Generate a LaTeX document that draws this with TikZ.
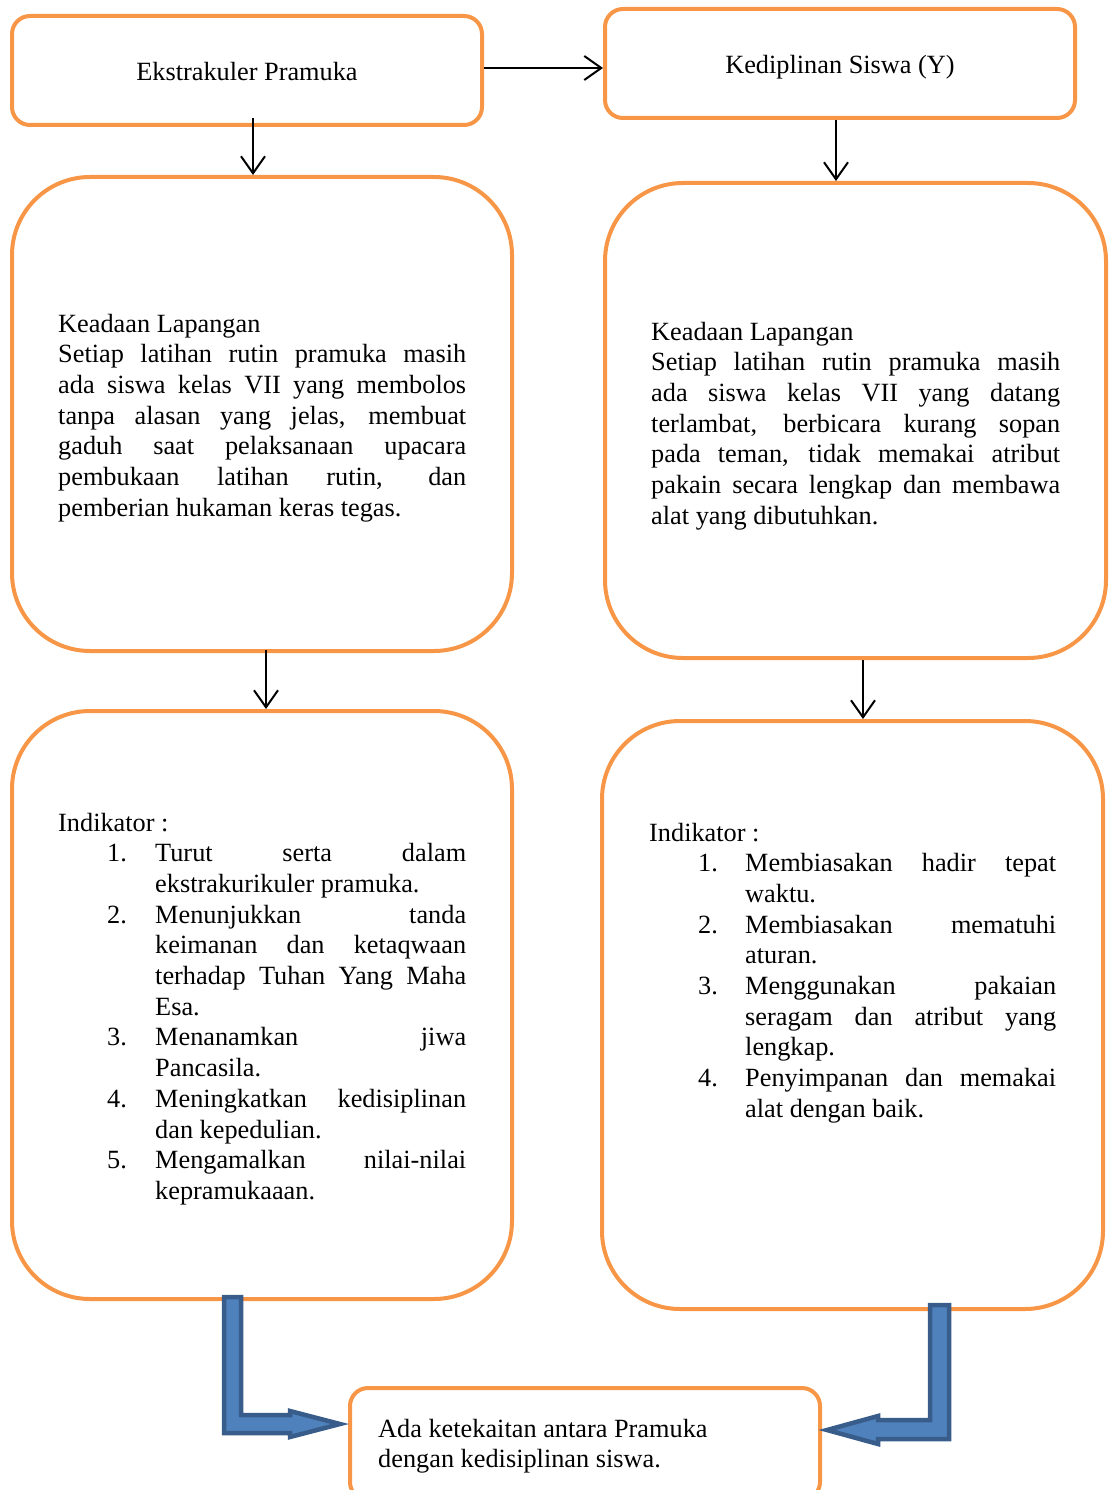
\documentclass[tikz,border=0pt]{standalone}
\usepackage{fontspec}
\setmainfont{Liberation Serif}
\usetikzlibrary{arrows.meta}
\definecolor{boxorange}{HTML}{F79646}
\definecolor{blkfill}{HTML}{4F81BD}
\definecolor{blkline}{HTML}{385D8A}
\newcommand{\jl}[2]{\makebox[#1][s]{#2}}
\newcommand{\itmA}[2]{\hspace*{49pt}\makebox[48pt][l]{#1}#2}
\newcommand{\contA}[1]{\hspace*{97pt}#1}
\newcommand{\itmB}[2]{\hspace*{49pt}\makebox[47pt][l]{#1}#2}
\newcommand{\contB}[1]{\hspace*{96pt}#1}
\begin{document}
\begin{tikzpicture}[x=1pt,y=-1pt,
 smallbox/.style={draw=boxorange, line width=4pt, rounded corners=18pt, inner sep=0pt},
 bigbox/.style={draw=boxorange, line width=4pt, rounded corners=78pt, inner sep=0pt},
 arr/.style={line width=2pt, -{Straight Barb[length=17pt,width=24pt]}},
 blockarrow/.style={fill=blkfill, draw=blkline, line width=4.5pt, line join=miter},
 txt/.style={inner sep=0pt, font=\fontsize{26.3}{30.7}\selectfont}
]
\useasboundingbox (0,0) rectangle (1109,1490);
\clip (0,0) rectangle (1109,1490);

% boxes
\node[smallbox, minimum width=470pt, minimum height=109pt] (A) at (247,70.5) {};
\node[smallbox, minimum width=470pt, minimum height=109pt] (B) at (840,63.5) {};
\node[bigbox, minimum width=500pt, minimum height=474pt] (C) at (262,414) {};
\node[bigbox, minimum width=501pt, minimum height=475pt] (D) at (855.5,420.5) {};
\node[bigbox, minimum width=500pt, minimum height=588pt] (E) at (262,1005) {};
\node[bigbox, minimum width=501pt, minimum height=588pt] (F) at (852.5,1015) {};
\node[smallbox, minimum width=470pt, minimum height=112pt] (G) at (585,1444) {};

% texts
\node[txt, anchor=base] (At) at (247,80.5) {Ekstrakuler Pramuka};
\node[txt, anchor=base] (Bt) at (840,73.5) {Kediplinan Siswa (Y)};

\node[txt, anchor=base west] (Ct) at (58,332) {\begin{minipage}[t]{420pt}\setlength{\parindent}{0pt}%
Keadaan Lapangan\\
\jl{408pt}{Setiap latihan rutin pramuka masih}\\
\jl{408pt}{ada siswa kelas VII yang membolos}\\
\jl{408pt}{tanpa alasan yang jelas, membuat}\\
\jl{408pt}{gaduh saat pelaksanaan upacara}\\
\jl{408pt}{pembukaan latihan rutin, dan}\\
pemberian hukaman keras tegas.
\end{minipage}};

\node[txt, anchor=base west] (Dt) at (651,340) {\begin{minipage}[t]{420pt}\setlength{\parindent}{0pt}%
Keadaan Lapangan\\
\jl{409pt}{Setiap latihan rutin pramuka masih}\\
\jl{409pt}{ada siswa kelas VII yang datang}\\
\jl{409pt}{terlambat, berbicara kurang sopan}\\
\jl{409pt}{pada teman, tidak memakai atribut}\\
\jl{409pt}{pakain secara lengkap dan membawa}\\
alat yang dibutuhkan.
\end{minipage}};

\node[txt, anchor=base west] (Et) at (58,831) {\begin{minipage}[t]{430pt}\setlength{\parindent}{0pt}%
Indikator :\\
\itmA{1.}{\jl{311pt}{Turut serta dalam}}\\
\contA{ekstrakurikuler pramuka.}\\
\itmA{2.}{\jl{311pt}{Menunjukkan tanda}}\\
\contA{\jl{311pt}{keimanan dan ketaqwaan}}\\
\contA{\jl{311pt}{terhadap Tuhan Yang Maha}}\\
\contA{Esa.}\\
\itmA{3.}{\jl{311pt}{Menanamkan jiwa}}\\
\contA{Pancasila.}\\
\itmA{4.}{\jl{311pt}{Meningkatkan kedisiplinan}}\\
\contA{dan kepedulian.}\\
\itmA{5.}{\jl{311pt}{Mengamalkan nilai-nilai}}\\
\contA{kepramukaaan.}
\end{minipage}};

\node[txt, anchor=base west] (Ft) at (649,841) {\begin{minipage}[t]{430pt}\setlength{\parindent}{0pt}%
Indikator :\\
\itmB{1.}{\jl{311pt}{Membiasakan hadir tepat}}\\
\contB{waktu.}\\
\itmB{2.}{\jl{311pt}{Membiasakan mematuhi}}\\
\contB{aturan.}\\
\itmB{3.}{\jl{311pt}{Menggunakan pakaian}}\\
\contB{\jl{311pt}{seragam dan atribut yang}}\\
\contB{lengkap.}\\
\itmB{4.}{\jl{311pt}{Penyimpanan dan memakai}}\\
\contB{alat dengan baik.}
\end{minipage}};

\node[txt, anchor=base west] (Gt) at (378,1437) {\begin{minipage}[t]{430pt}\setlength{\parindent}{0pt}%
Ada ketekaitan antara Pramuka\\
dengan kedisiplinan siswa.
\end{minipage}};

% connectors
\draw[arr] (A.east |- 0,68) -- (B.west |- 0,68);
\draw[arr] ([yshift=9pt]A.south -| 253,0) -- (C.north -| 253,0);
\draw[arr] (B.south -| 836,0) -- (D.north -| 836,0);
\draw[arr] ([yshift=3pt]C.south -| 266,0) -- (E.north -| 266,0);
\draw[arr] (D.south -| 863,0) -- (F.north -| 863,0);

% block arrows
\draw[blockarrow] (224,1297) -- (241,1297) -- (241,1415) -- (290,1415) -- (290,1411)
  -- (340,1424) -- (290,1437) -- (290,1433) -- (224,1433) -- cycle;
\draw[blockarrow] (949,1305) -- (930,1305) -- (930,1420) -- (878,1420) -- (878,1416)
  -- (827,1430) -- (878,1444) -- (878,1439) -- (949,1439) -- cycle;
\end{tikzpicture}
\end{document}
